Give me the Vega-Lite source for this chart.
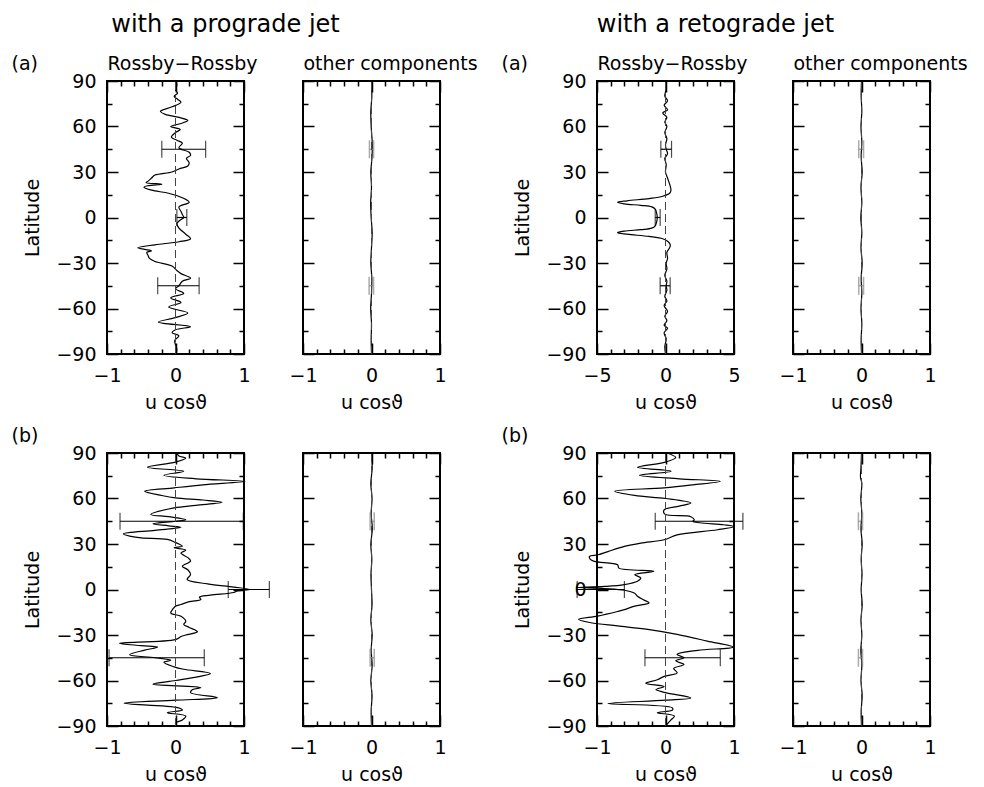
{
"$schema":"https://vega.github.io/schema/vega-lite/v6.json",
"padding":{"left":10,"top":11,"right":5,"bottom":5},
"background":"white",
"datasets":{
"c1":[{"lat":90,"u":0.01},{"lat":87,"u":0.02},{"lat":84,"u":0.0},{"lat":82,"u":0.03},{"lat":80,"u":-0.02},{"lat":78,"u":0.03},{"lat":76,"u":0.08},{"lat":73,"u":-0.05},{"lat":70,"u":-0.22},{"lat":68,"u":-0.15},{"lat":66,"u":0.05},{"lat":64,"u":0.18},{"lat":62,"u":0.08},{"lat":60,"u":-0.07},{"lat":58,"u":0.07},{"lat":56,"u":0.0},{"lat":53,"u":-0.06},{"lat":51,"u":0.02},{"lat":49,"u":0.1},{"lat":46,"u":0.05},{"lat":43,"u":0.2},{"lat":41,"u":0.22},{"lat":39,"u":0.16},{"lat":36,"u":0.2},{"lat":34,"u":0.18},{"lat":32,"u":0.05},{"lat":30,"u":-0.05},{"lat":28,"u":-0.3},{"lat":26,"u":-0.35},{"lat":24,"u":-0.4},{"lat":23,"u":-0.43},{"lat":22,"u":-0.2},{"lat":21,"u":-0.4},{"lat":20,"u":-0.46},{"lat":18,"u":-0.35},{"lat":16,"u":-0.1},{"lat":13,"u":0.1},{"lat":10,"u":0.2},{"lat":7,"u":0.05},{"lat":4,"u":0.08},{"lat":2,"u":0.1},{"lat":0,"u":0.12},{"lat":-2,"u":0.06},{"lat":-4,"u":0.02},{"lat":-7,"u":0.05},{"lat":-11,"u":0.15},{"lat":-14,"u":0.22},{"lat":-16,"u":0.05},{"lat":-18,"u":-0.3},{"lat":-20,"u":-0.55},{"lat":-21,"u":-0.45},{"lat":-22,"u":-0.35},{"lat":-23,"u":-0.42},{"lat":-25,"u":-0.4},{"lat":-27,"u":-0.38},{"lat":-29,"u":-0.3},{"lat":-32,"u":-0.05},{"lat":-35,"u":0.02},{"lat":-37,"u":0.08},{"lat":-40,"u":0.22},{"lat":-42,"u":0.1},{"lat":-45,"u":0.05},{"lat":-47,"u":0.0},{"lat":-50,"u":0.12},{"lat":-53,"u":-0.07},{"lat":-56,"u":0.08},{"lat":-59,"u":-0.1},{"lat":-63,"u":0.18},{"lat":-66,"u":0.0},{"lat":-69,"u":-0.25},{"lat":-72,"u":0.22},{"lat":-74,"u":0.0},{"lat":-76,"u":-0.05},{"lat":-78,"u":0.05},{"lat":-81,"u":-0.01},{"lat":-84,"u":0.0},{"lat":-87,"u":0.02},{"lat":-90,"u":0.01}],
"c2":[{"lat":90,"u":0.0},{"lat":80,"u":0.005},{"lat":70,"u":-0.01},{"lat":60,"u":-0.005},{"lat":50,"u":0.01},{"lat":40,"u":0.008},{"lat":30,"u":-0.01},{"lat":20,"u":0.0},{"lat":10,"u":-0.012},{"lat":0,"u":-0.005},{"lat":-10,"u":0.01},{"lat":-20,"u":0.0},{"lat":-30,"u":-0.01},{"lat":-40,"u":0.005},{"lat":-50,"u":0.0},{"lat":-60,"u":-0.012},{"lat":-70,"u":0.0},{"lat":-80,"u":-0.005},{"lat":-90,"u":0.0}],
"c3":[{"lat":90,"u":0.0},{"lat":85,"u":0.05},{"lat":80,"u":-0.05},{"lat":77,"u":0.15},{"lat":74,"u":-0.1},{"lat":71,"u":0.15},{"lat":69,"u":-0.2},{"lat":66,"u":0.1},{"lat":63,"u":-0.05},{"lat":60,"u":0.1},{"lat":56,"u":-0.05},{"lat":52,"u":0.1},{"lat":48,"u":0.0},{"lat":45,"u":0.05},{"lat":42,"u":0.15},{"lat":39,"u":-0.05},{"lat":35,"u":0.05},{"lat":30,"u":0.0},{"lat":26,"u":0.15},{"lat":22,"u":0.3},{"lat":18,"u":0.4},{"lat":16,"u":0.3},{"lat":14,"u":-0.2},{"lat":12.5,"u":-1.2},{"lat":11,"u":-2.8},{"lat":10,"u":-3.5},{"lat":9,"u":-3.0},{"lat":8,"u":-1.8},{"lat":7,"u":-1.0},{"lat":5.5,"u":-0.75},{"lat":3,"u":-0.65},{"lat":0,"u":-0.6},{"lat":-3,"u":-0.65},{"lat":-5.5,"u":-0.75},{"lat":-7,"u":-1.0},{"lat":-8,"u":-1.8},{"lat":-9,"u":-3.0},{"lat":-10,"u":-3.5},{"lat":-11,"u":-2.8},{"lat":-12.5,"u":-1.2},{"lat":-14,"u":-0.2},{"lat":-16,"u":0.2},{"lat":-18,"u":0.35},{"lat":-20,"u":0.3},{"lat":-23,"u":0.1},{"lat":-27,"u":0.15},{"lat":-30,"u":0.05},{"lat":-34,"u":0.1},{"lat":-38,"u":-0.05},{"lat":-42,"u":0.1},{"lat":-45,"u":0.05},{"lat":-48,"u":0.1},{"lat":-52,"u":-0.05},{"lat":-55,"u":0.1},{"lat":-58,"u":-0.1},{"lat":-62,"u":0.15},{"lat":-65,"u":-0.05},{"lat":-68,"u":0.1},{"lat":-71,"u":-0.1},{"lat":-73,"u":0.15},{"lat":-76,"u":-0.1},{"lat":-80,"u":0.05},{"lat":-85,"u":-0.05},{"lat":-90,"u":0.0}],
"c4":[{"lat":90,"u":0.0},{"lat":80,"u":-0.005},{"lat":70,"u":0.005},{"lat":60,"u":-0.008},{"lat":50,"u":0.005},{"lat":40,"u":-0.005},{"lat":30,"u":0.01},{"lat":20,"u":-0.008},{"lat":10,"u":0.005},{"lat":0,"u":-0.01},{"lat":-10,"u":0.005},{"lat":-20,"u":-0.008},{"lat":-30,"u":0.01},{"lat":-40,"u":-0.005},{"lat":-50,"u":0.005},{"lat":-60,"u":-0.008},{"lat":-70,"u":0.005},{"lat":-80,"u":-0.005},{"lat":-90,"u":0.0}],
"c5":[{"lat":90,"u":0.02},{"lat":88,"u":0.05},{"lat":86.7,"u":0.15},{"lat":84,"u":0.0},{"lat":80.6,"u":-0.41},{"lat":78,"u":0.12},{"lat":75.3,"u":-0.17},{"lat":73,"u":0.3},{"lat":71.3,"u":1.02},{"lat":69,"u":0.4},{"lat":67,"u":-0.02},{"lat":64.8,"u":-0.45},{"lat":62,"u":-0.2},{"lat":60.4,"u":0.0},{"lat":59,"u":0.4},{"lat":57.5,"u":0.68},{"lat":55.5,"u":0.3},{"lat":53.8,"u":-0.02},{"lat":49.5,"u":-0.36},{"lat":48,"u":-0.1},{"lat":46,"u":0.15},{"lat":45,"u":0.0},{"lat":43.3,"u":-0.33},{"lat":42,"u":-0.1},{"lat":41,"u":0.08},{"lat":39,"u":-0.3},{"lat":36.7,"u":-0.76},{"lat":35,"u":-0.65},{"lat":34,"u":-0.5},{"lat":33,"u":-0.12},{"lat":31,"u":0.0},{"lat":30,"u":0.05},{"lat":28.6,"u":0.1},{"lat":27.5,"u":-0.02},{"lat":26,"u":0.15},{"lat":24,"u":0.08},{"lat":21,"u":0.18},{"lat":18.7,"u":0.22},{"lat":15.4,"u":0.1},{"lat":13,"u":0.18},{"lat":9.9,"u":0.22},{"lat":6.6,"u":0.17},{"lat":3.7,"u":0.47},{"lat":1.6,"u":0.85},{"lat":0,"u":1.08},{"lat":-1,"u":0.9},{"lat":-2,"u":0.85},{"lat":-3.7,"u":0.51},{"lat":-5,"u":0.35},{"lat":-6.6,"u":0.37},{"lat":-8,"u":0.2},{"lat":-9.9,"u":0.08},{"lat":-11,"u":0.0},{"lat":-13,"u":-0.04},{"lat":-15.5,"u":-0.07},{"lat":-17.7,"u":0.08},{"lat":-21,"u":0.15},{"lat":-23,"u":0.12},{"lat":-25,"u":0.2},{"lat":-27.8,"u":0.32},{"lat":-30,"u":0.15},{"lat":-31,"u":0.08},{"lat":-33,"u":0.0},{"lat":-35.4,"u":-0.82},{"lat":-37,"u":-0.5},{"lat":-38,"u":-0.26},{"lat":-40,"u":-0.45},{"lat":-43,"u":-0.67},{"lat":-45,"u":-0.3},{"lat":-46.7,"u":-0.07},{"lat":-48,"u":-0.17},{"lat":-51,"u":-0.02},{"lat":-52.6,"u":0.12},{"lat":-55.4,"u":0.51},{"lat":-57.6,"u":0.32},{"lat":-60,"u":0.0},{"lat":-62.4,"u":-0.33},{"lat":-64.7,"u":0.37},{"lat":-66,"u":0.25},{"lat":-68,"u":0.22},{"lat":-71.3,"u":0.61},{"lat":-73,"u":0.0},{"lat":-75,"u":-0.75},{"lat":-77.9,"u":0.03},{"lat":-79.5,"u":0.1},{"lat":-81.2,"u":-0.12},{"lat":-83.4,"u":0.15},{"lat":-86,"u":0.1},{"lat":-88,"u":0.0},{"lat":-90,"u":0.02}],
"c6":[{"lat":90,"u":0.0},{"lat":80,"u":0.01},{"lat":70,"u":-0.01},{"lat":60,"u":0.008},{"lat":50,"u":-0.005},{"lat":40,"u":0.012},{"lat":30,"u":-0.01},{"lat":20,"u":0.005},{"lat":10,"u":-0.008},{"lat":0,"u":0.0},{"lat":-10,"u":0.008},{"lat":-20,"u":-0.01},{"lat":-30,"u":0.01},{"lat":-40,"u":-0.005},{"lat":-50,"u":0.01},{"lat":-60,"u":-0.01},{"lat":-70,"u":0.008},{"lat":-80,"u":-0.005},{"lat":-90,"u":0.0}],
"c7":[{"lat":90,"u":0.02},{"lat":87,"u":0.15},{"lat":84,"u":0.0},{"lat":80.6,"u":-0.41},{"lat":78,"u":0.08},{"lat":75.3,"u":-0.38},{"lat":73,"u":0.2},{"lat":71.3,"u":0.8},{"lat":69,"u":0.4},{"lat":67,"u":-0.02},{"lat":64.8,"u":-0.74},{"lat":62,"u":-0.45},{"lat":60,"u":0.0},{"lat":57,"u":0.37},{"lat":55,"u":0.2},{"lat":52.5,"u":-0.02},{"lat":49.7,"u":-0.01},{"lat":48,"u":0.37},{"lat":46,"u":0.42},{"lat":45,"u":0.4},{"lat":44,"u":0.5},{"lat":42.7,"u":0.85},{"lat":41.6,"u":1.0},{"lat":39.4,"u":0.76},{"lat":36,"u":0.17},{"lat":32.8,"u":-0.02},{"lat":30.6,"u":-0.36},{"lat":28.4,"u":-0.6},{"lat":25,"u":-0.84},{"lat":22.9,"u":-0.98},{"lat":21.8,"u":-1.11},{"lat":20,"u":-1.1},{"lat":18.5,"u":-1.04},{"lat":16.3,"u":-0.7},{"lat":14.1,"u":-0.68},{"lat":12,"u":-0.17},{"lat":9.8,"u":-0.45},{"lat":7.6,"u":-0.36},{"lat":5.4,"u":-0.41},{"lat":3.2,"u":-0.6},{"lat":2,"u":-0.89},{"lat":1.4,"u":-1.3},{"lat":0.6,"u":-0.89},{"lat":-0.5,"u":-0.6},{"lat":-2.5,"u":-0.45},{"lat":-4.4,"u":-0.41},{"lat":-7,"u":-0.31},{"lat":-8.8,"u":-0.24},{"lat":-11,"u":-0.45},{"lat":-13.3,"u":-0.6},{"lat":-14.5,"u":-0.7},{"lat":-17.5,"u":-0.99},{"lat":-19.7,"u":-1.27},{"lat":-21.9,"u":-1.09},{"lat":-24,"u":-0.7},{"lat":-26.3,"u":-0.26},{"lat":-29.6,"u":0.17},{"lat":-34,"u":0.61},{"lat":-38,"u":0.99},{"lat":-40.1,"u":0.47},{"lat":-42.8,"u":0.17},{"lat":-45,"u":0.27},{"lat":-47,"u":0.15},{"lat":-49.5,"u":0.27},{"lat":-52,"u":0.12},{"lat":-55,"u":0.17},{"lat":-57.3,"u":-0.02},{"lat":-59.5,"u":-0.12},{"lat":-61.8,"u":-0.29},{"lat":-64,"u":-0.02},{"lat":-66,"u":-0.14},{"lat":-68,"u":0.0},{"lat":-71.5,"u":0.37},{"lat":-73,"u":0.0},{"lat":-75.2,"u":-0.84},{"lat":-78,"u":0.1},{"lat":-79.5,"u":0.1},{"lat":-81.2,"u":-0.12},{"lat":-83.4,"u":0.13},{"lat":-86,"u":0.08},{"lat":-90,"u":0.0}],
"c8":[{"lat":90,"u":0.0},{"lat":80,"u":-0.008},{"lat":74,"u":-0.015},{"lat":70,"u":0.005},{"lat":60,"u":-0.01},{"lat":50,"u":0.005},{"lat":40,"u":-0.008},{"lat":30,"u":0.01},{"lat":20,"u":-0.005},{"lat":10,"u":0.008},{"lat":0,"u":-0.005},{"lat":-10,"u":0.01},{"lat":-20,"u":-0.008},{"lat":-30,"u":0.005},{"lat":-40,"u":-0.01},{"lat":-50,"u":0.005},{"lat":-60,"u":-0.008},{"lat":-70,"u":0.01},{"lat":-80,"u":-0.005},{"lat":-90,"u":0.0}],
"e1":[{"lat":45,"lo":-0.2,"hi":0.44},{"lat":0,"lo":0.02,"hi":0.165},{"lat":-45,"lo":-0.26,"hi":0.345}],
"e2":[{"lat":45,"lo":-0.03,"hi":0.03},{"lat":-45,"lo":-0.035,"hi":0.03}],
"e3":[{"lat":45,"lo":-0.34,"hi":0.44},{"lat":0,"lo":-0.75,"hi":-0.39},{"lat":-45,"lo":-0.39,"hi":0.34}],
"e4":[{"lat":45,"lo":-0.04,"hi":0.03},{"lat":-45,"lo":-0.04,"hi":0.03}],
"e5":[{"lat":45,"lo":-0.81,"hi":0.99},{"lat":0,"lo":0.77,"hi":1.37},{"lat":-45,"lo":-0.97,"hi":0.42}],
"e6":[{"lat":45,"lo":-0.02,"hi":0.04},{"lat":-45,"lo":-0.02,"hi":0.04}],
"e7":[{"lat":45,"lo":-0.15,"hi":1.13},{"lat":0,"lo":-1.29,"hi":-0.6},{"lat":-45,"lo":-0.3,"hi":0.8}],
"e8":[{"lat":45,"lo":-0.045,"hi":0.015},{"lat":-45,"lo":-0.045,"hi":0.015}]
},
"bounds":"flush",
"columns":5,
"spacing":{"row":99,"column":59},
"concat":[
  {"width":137,"height":273,"resolve":{"axis":{"x":"independent","y":"independent"}},"layer":[
   {"data":{"name":"c1"},"mark":{"type":"line","color":"#000","strokeWidth":1.2,"interpolate":"catmull-rom"},"encoding":{
     "x":{"field":"u","type":"quantitative","scale":{"domain":[-1,1],"nice":false,"zero":false},"axis":{"orient":"bottom","values":[-1,0,1],"labelExpr":"replace(datum.label, '.0', '')","labelOverlap":false,"ticks":false,"labelPadding":12,"title":"u  cosϑ","titleX":68.5,"titleY":54,"titleAlign":"center","titleBaseline":"alphabetic"}},
     "y":{"field":"lat","type":"quantitative","scale":{"domain":[-90,90],"nice":false,"zero":false},"axis":{"orient":"left","values":[-90,-60,-30,0,30,60,90],"labelOverlap":false,"ticks":false,"labelPadding":11,"title":"Latitude","titleX":-75,"titleY":136.5,"titleAngle":-90,"titleAlign":"center","titleBaseline":"middle"}},
     "order":{"field":"lat","type":"quantitative"}}},
   {"data":{"name":"e1"},"mark":{"type":"rule","color":"#000","strokeWidth":1.2},"encoding":{
     "x":{"field":"lo","type":"quantitative","scale":{"domain":[-1,1],"nice":false,"zero":false},"axis":{"orient":"top","values":[-0.8,-0.6,-0.4,-0.2,0.2,0.4,0.6,0.8],"tickSize":-5,"labels":false,"title":"(a)","titleX":-96,"titleY":-18,"titleAlign":"left","titleBaseline":"middle"}},
     "x2":{"field":"hi"},
     "y":{"field":"lat","type":"quantitative","scale":{"domain":[-90,90],"nice":false,"zero":false},"axis":{"orient":"right","values":[-75,-45,-15,15,45,75],"tickSize":-5,"labels":false,"title":null}}}},
   {"data":{"name":"e1"},"mark":{"type":"tick","orient":"vertical","size":17,"thickness":1.2,"color":"#000"},"encoding":{
     "x":{"field":"lo","type":"quantitative","scale":{"domain":[-1,1],"nice":false,"zero":false},"axis":{"orient":"bottom","values":[-0.8,-0.6,-0.4,-0.2,0.2,0.4,0.6,0.8],"tickSize":-5,"labels":false,"title":"with a prograde jet","titleX":118,"titleY":-323,"titleAlign":"center","titleBaseline":"alphabetic","titleFontSize":24}},
     "y":{"field":"lat","type":"quantitative","scale":{"domain":[-90,90],"nice":false,"zero":false},"axis":{"orient":"left","values":[-75,-45,-15,15,45,75],"tickSize":-5,"labels":false,"title":null}}}},
   {"data":{"name":"e1"},"mark":{"type":"tick","orient":"vertical","size":17,"thickness":1.2,"color":"#000"},"encoding":{
     "x":{"field":"hi","type":"quantitative","scale":{"domain":[-1,1],"nice":false,"zero":false},"axis":{"orient":"top","values":[-1,0,1],"tickSize":-11,"labels":false,"title":"Rossby−Rossby","titleX":0,"titleY":-18,"titleAlign":"left","titleBaseline":"middle"}},
     "y":{"field":"lat","type":"quantitative","scale":{"domain":[-90,90],"nice":false,"zero":false},"axis":{"orient":"right","values":[-90,-60,-30,0,30,60,90],"tickSize":-11,"labels":false,"title":null}}}},
   {"data":{"values":[{}]},"mark":{"type":"rule","color":"#444","strokeWidth":1,"strokeDash":[8,4]},"encoding":{
     "x":{"datum":0,"type":"quantitative","scale":{"domain":[-1,1],"nice":false,"zero":false},"axis":{"orient":"bottom","values":[-1,0,1],"tickSize":-11,"labels":false,"title":null}},
     "y":{"datum":-90,"type":"quantitative","scale":{"domain":[-90,90],"nice":false,"zero":false},"axis":{"orient":"left","values":[-90,-60,-30,0,30,60,90],"tickSize":-11,"labels":false,"title":null}},
     "y2":{"datum":90}}}
  ]},
  {"width":137,"height":273,"resolve":{"axis":{"x":"independent","y":"independent"}},"layer":[
   {"data":{"name":"c2"},"mark":{"type":"line","color":"#000","strokeWidth":1.2,"interpolate":"catmull-rom"},"encoding":{
     "x":{"field":"u","type":"quantitative","scale":{"domain":[-1,1],"nice":false,"zero":false},"axis":{"orient":"bottom","values":[-1,0,1],"labelExpr":"replace(datum.label, '.0', '')","labelOverlap":false,"ticks":false,"labelPadding":12,"title":"u  cosϑ","titleX":68.5,"titleY":54,"titleAlign":"center","titleBaseline":"alphabetic"}},
     "y":{"field":"lat","type":"quantitative","scale":{"domain":[-90,90],"nice":false,"zero":false},"axis":null},
     "order":{"field":"lat","type":"quantitative"}}},
   {"data":{"name":"e2"},"mark":{"type":"rule","color":"#888","strokeWidth":1},"encoding":{
     "x":{"field":"lo","type":"quantitative","scale":{"domain":[-1,1],"nice":false,"zero":false},"axis":{"orient":"top","values":[-0.8,-0.6,-0.4,-0.2,0.2,0.4,0.6,0.8],"tickSize":-5,"labels":false,"title":null}},
     "x2":{"field":"hi"},
     "y":{"field":"lat","type":"quantitative","scale":{"domain":[-90,90],"nice":false,"zero":false},"axis":{"orient":"right","values":[-75,-45,-15,15,45,75],"tickSize":-5,"labels":false,"title":null}}}},
   {"data":{"name":"e2"},"mark":{"type":"tick","orient":"vertical","size":18,"thickness":1.5,"color":"#888"},"encoding":{
     "x":{"field":"lo","type":"quantitative","scale":{"domain":[-1,1],"nice":false,"zero":false},"axis":{"orient":"bottom","values":[-0.8,-0.6,-0.4,-0.2,0.2,0.4,0.6,0.8],"tickSize":-5,"labels":false,"title":null}},
     "y":{"field":"lat","type":"quantitative","scale":{"domain":[-90,90],"nice":false,"zero":false},"axis":{"orient":"left","values":[-75,-45,-15,15,45,75],"tickSize":-5,"labels":false,"title":null}}}},
   {"data":{"name":"e2"},"mark":{"type":"tick","orient":"vertical","size":18,"thickness":1.5,"color":"#888"},"encoding":{
     "x":{"field":"hi","type":"quantitative","scale":{"domain":[-1,1],"nice":false,"zero":false},"axis":{"orient":"top","values":[-1,0,1],"tickSize":-11,"labels":false,"title":"other components","titleX":0,"titleY":-18,"titleAlign":"left","titleBaseline":"middle"}},
     "y":{"field":"lat","type":"quantitative","scale":{"domain":[-90,90],"nice":false,"zero":false},"axis":{"orient":"right","values":[-90,-60,-30,0,30,60,90],"tickSize":-11,"labels":false,"title":null}}}},
   {"data":{"values":[{}]},"mark":{"type":"rule","color":"#444","strokeWidth":1,"strokeDash":[8,4]},"encoding":{
     "x":{"datum":0,"type":"quantitative","scale":{"domain":[-1,1],"nice":false,"zero":false},"axis":{"orient":"bottom","values":[-1,0,1],"tickSize":-11,"labels":false,"title":null}},
     "y":{"datum":-90,"type":"quantitative","scale":{"domain":[-90,90],"nice":false,"zero":false},"axis":{"orient":"left","values":[-90,-60,-30,0,30,60,90],"tickSize":-11,"labels":false,"title":null}},
     "y2":{"datum":90}}}
  ]},
  {"width":39,"height":273,"view":{"stroke":null},"data":{"values":[{}]},"mark":{"type":"text","text":""},"encoding":{}},
  {"width":137,"height":273,"resolve":{"axis":{"x":"independent","y":"independent"}},"layer":[
   {"data":{"name":"c3"},"mark":{"type":"line","color":"#000","strokeWidth":1.2,"interpolate":"catmull-rom"},"encoding":{
     "x":{"field":"u","type":"quantitative","scale":{"domain":[-5,5],"nice":false,"zero":false},"axis":{"orient":"bottom","values":[-5,0,5],"labelExpr":"replace(datum.label, '.0', '')","labelOverlap":false,"ticks":false,"labelPadding":12,"title":"u  cosϑ","titleX":68.5,"titleY":54,"titleAlign":"center","titleBaseline":"alphabetic"}},
     "y":{"field":"lat","type":"quantitative","scale":{"domain":[-90,90],"nice":false,"zero":false},"axis":{"orient":"left","values":[-90,-60,-30,0,30,60,90],"labelOverlap":false,"ticks":false,"labelPadding":11,"title":"Latitude","titleX":-75,"titleY":136.5,"titleAngle":-90,"titleAlign":"center","titleBaseline":"middle"}},
     "order":{"field":"lat","type":"quantitative"}}},
   {"data":{"name":"e3"},"mark":{"type":"rule","color":"#000","strokeWidth":1.2},"encoding":{
     "x":{"field":"lo","type":"quantitative","scale":{"domain":[-5,5],"nice":false,"zero":false},"axis":{"orient":"top","values":[-4,-3,-2,-1,1,2,3,4],"tickSize":-5,"labels":false,"title":"(a)","titleX":-96,"titleY":-18,"titleAlign":"left","titleBaseline":"middle"}},
     "x2":{"field":"hi"},
     "y":{"field":"lat","type":"quantitative","scale":{"domain":[-90,90],"nice":false,"zero":false},"axis":{"orient":"right","values":[-75,-45,-15,15,45,75],"tickSize":-5,"labels":false,"title":null}}}},
   {"data":{"name":"e3"},"mark":{"type":"tick","orient":"vertical","size":17,"thickness":1.2,"color":"#000"},"encoding":{
     "x":{"field":"lo","type":"quantitative","scale":{"domain":[-5,5],"nice":false,"zero":false},"axis":{"orient":"bottom","values":[-4,-3,-2,-1,1,2,3,4],"tickSize":-5,"labels":false,"title":"with a retograde jet","titleX":118,"titleY":-323,"titleAlign":"center","titleBaseline":"alphabetic","titleFontSize":24}},
     "y":{"field":"lat","type":"quantitative","scale":{"domain":[-90,90],"nice":false,"zero":false},"axis":{"orient":"left","values":[-75,-45,-15,15,45,75],"tickSize":-5,"labels":false,"title":null}}}},
   {"data":{"name":"e3"},"mark":{"type":"tick","orient":"vertical","size":17,"thickness":1.2,"color":"#000"},"encoding":{
     "x":{"field":"hi","type":"quantitative","scale":{"domain":[-5,5],"nice":false,"zero":false},"axis":{"orient":"top","values":[-5,0,5],"tickSize":-11,"labels":false,"title":"Rossby−Rossby","titleX":0,"titleY":-18,"titleAlign":"left","titleBaseline":"middle"}},
     "y":{"field":"lat","type":"quantitative","scale":{"domain":[-90,90],"nice":false,"zero":false},"axis":{"orient":"right","values":[-90,-60,-30,0,30,60,90],"tickSize":-11,"labels":false,"title":null}}}},
   {"data":{"values":[{}]},"mark":{"type":"rule","color":"#444","strokeWidth":1,"strokeDash":[8,4]},"encoding":{
     "x":{"datum":0,"type":"quantitative","scale":{"domain":[-5,5],"nice":false,"zero":false},"axis":{"orient":"bottom","values":[-5,0,5],"tickSize":-11,"labels":false,"title":null}},
     "y":{"datum":-90,"type":"quantitative","scale":{"domain":[-90,90],"nice":false,"zero":false},"axis":{"orient":"left","values":[-90,-60,-30,0,30,60,90],"tickSize":-11,"labels":false,"title":null}},
     "y2":{"datum":90}}}
  ]},
  {"width":137,"height":273,"resolve":{"axis":{"x":"independent","y":"independent"}},"layer":[
   {"data":{"name":"c4"},"mark":{"type":"line","color":"#000","strokeWidth":1.2,"interpolate":"catmull-rom"},"encoding":{
     "x":{"field":"u","type":"quantitative","scale":{"domain":[-1,1],"nice":false,"zero":false},"axis":{"orient":"bottom","values":[-1,0,1],"labelExpr":"replace(datum.label, '.0', '')","labelOverlap":false,"ticks":false,"labelPadding":12,"title":"u  cosϑ","titleX":68.5,"titleY":54,"titleAlign":"center","titleBaseline":"alphabetic"}},
     "y":{"field":"lat","type":"quantitative","scale":{"domain":[-90,90],"nice":false,"zero":false},"axis":null},
     "order":{"field":"lat","type":"quantitative"}}},
   {"data":{"name":"e4"},"mark":{"type":"rule","color":"#888","strokeWidth":1},"encoding":{
     "x":{"field":"lo","type":"quantitative","scale":{"domain":[-1,1],"nice":false,"zero":false},"axis":{"orient":"top","values":[-0.8,-0.6,-0.4,-0.2,0.2,0.4,0.6,0.8],"tickSize":-5,"labels":false,"title":null}},
     "x2":{"field":"hi"},
     "y":{"field":"lat","type":"quantitative","scale":{"domain":[-90,90],"nice":false,"zero":false},"axis":{"orient":"right","values":[-75,-45,-15,15,45,75],"tickSize":-5,"labels":false,"title":null}}}},
   {"data":{"name":"e4"},"mark":{"type":"tick","orient":"vertical","size":18,"thickness":1.5,"color":"#888"},"encoding":{
     "x":{"field":"lo","type":"quantitative","scale":{"domain":[-1,1],"nice":false,"zero":false},"axis":{"orient":"bottom","values":[-0.8,-0.6,-0.4,-0.2,0.2,0.4,0.6,0.8],"tickSize":-5,"labels":false,"title":null}},
     "y":{"field":"lat","type":"quantitative","scale":{"domain":[-90,90],"nice":false,"zero":false},"axis":{"orient":"left","values":[-75,-45,-15,15,45,75],"tickSize":-5,"labels":false,"title":null}}}},
   {"data":{"name":"e4"},"mark":{"type":"tick","orient":"vertical","size":18,"thickness":1.5,"color":"#888"},"encoding":{
     "x":{"field":"hi","type":"quantitative","scale":{"domain":[-1,1],"nice":false,"zero":false},"axis":{"orient":"top","values":[-1,0,1],"tickSize":-11,"labels":false,"title":"other components","titleX":0,"titleY":-18,"titleAlign":"left","titleBaseline":"middle"}},
     "y":{"field":"lat","type":"quantitative","scale":{"domain":[-90,90],"nice":false,"zero":false},"axis":{"orient":"right","values":[-90,-60,-30,0,30,60,90],"tickSize":-11,"labels":false,"title":null}}}},
   {"data":{"values":[{}]},"mark":{"type":"rule","color":"#444","strokeWidth":1,"strokeDash":[8,4]},"encoding":{
     "x":{"datum":0,"type":"quantitative","scale":{"domain":[-1,1],"nice":false,"zero":false},"axis":{"orient":"bottom","values":[-1,0,1],"tickSize":-11,"labels":false,"title":null}},
     "y":{"datum":-90,"type":"quantitative","scale":{"domain":[-90,90],"nice":false,"zero":false},"axis":{"orient":"left","values":[-90,-60,-30,0,30,60,90],"tickSize":-11,"labels":false,"title":null}},
     "y2":{"datum":90}}}
  ]},
  {"width":137,"height":273,"resolve":{"axis":{"x":"independent","y":"independent"}},"layer":[
   {"data":{"name":"c5"},"mark":{"type":"line","color":"#000","strokeWidth":1.2,"interpolate":"catmull-rom"},"encoding":{
     "x":{"field":"u","type":"quantitative","scale":{"domain":[-1,1],"nice":false,"zero":false},"axis":{"orient":"bottom","values":[-1,0,1],"labelExpr":"replace(datum.label, '.0', '')","labelOverlap":false,"ticks":false,"labelPadding":12,"title":"u  cosϑ","titleX":68.5,"titleY":54,"titleAlign":"center","titleBaseline":"alphabetic"}},
     "y":{"field":"lat","type":"quantitative","scale":{"domain":[-90,90],"nice":false,"zero":false},"axis":{"orient":"left","values":[-90,-60,-30,0,30,60,90],"labelOverlap":false,"ticks":false,"labelPadding":11,"title":"Latitude","titleX":-75,"titleY":136.5,"titleAngle":-90,"titleAlign":"center","titleBaseline":"middle"}},
     "order":{"field":"lat","type":"quantitative"}}},
   {"data":{"name":"e5"},"mark":{"type":"rule","color":"#000","strokeWidth":1.2},"encoding":{
     "x":{"field":"lo","type":"quantitative","scale":{"domain":[-1,1],"nice":false,"zero":false},"axis":{"orient":"top","values":[-0.8,-0.6,-0.4,-0.2,0.2,0.4,0.6,0.8],"tickSize":-5,"labels":false,"title":"(b)","titleX":-96,"titleY":-18,"titleAlign":"left","titleBaseline":"middle"}},
     "x2":{"field":"hi"},
     "y":{"field":"lat","type":"quantitative","scale":{"domain":[-90,90],"nice":false,"zero":false},"axis":{"orient":"right","values":[-75,-45,-15,15,45,75],"tickSize":-5,"labels":false,"title":null}}}},
   {"data":{"name":"e5"},"mark":{"type":"tick","orient":"vertical","size":17,"thickness":1.2,"color":"#000"},"encoding":{
     "x":{"field":"lo","type":"quantitative","scale":{"domain":[-1,1],"nice":false,"zero":false},"axis":{"orient":"bottom","values":[-0.8,-0.6,-0.4,-0.2,0.2,0.4,0.6,0.8],"tickSize":-5,"labels":false,"title":null}},
     "y":{"field":"lat","type":"quantitative","scale":{"domain":[-90,90],"nice":false,"zero":false},"axis":{"orient":"left","values":[-75,-45,-15,15,45,75],"tickSize":-5,"labels":false,"title":null}}}},
   {"data":{"name":"e5"},"mark":{"type":"tick","orient":"vertical","size":17,"thickness":1.2,"color":"#000"},"encoding":{
     "x":{"field":"hi","type":"quantitative","scale":{"domain":[-1,1],"nice":false,"zero":false},"axis":{"orient":"top","values":[-1,0,1],"tickSize":-11,"labels":false,"title":null}},
     "y":{"field":"lat","type":"quantitative","scale":{"domain":[-90,90],"nice":false,"zero":false},"axis":{"orient":"right","values":[-90,-60,-30,0,30,60,90],"tickSize":-11,"labels":false,"title":null}}}},
   {"data":{"values":[{}]},"mark":{"type":"rule","color":"#444","strokeWidth":1,"strokeDash":[8,4]},"encoding":{
     "x":{"datum":0,"type":"quantitative","scale":{"domain":[-1,1],"nice":false,"zero":false},"axis":{"orient":"bottom","values":[-1,0,1],"tickSize":-11,"labels":false,"title":null}},
     "y":{"datum":-90,"type":"quantitative","scale":{"domain":[-90,90],"nice":false,"zero":false},"axis":{"orient":"left","values":[-90,-60,-30,0,30,60,90],"tickSize":-11,"labels":false,"title":null}},
     "y2":{"datum":90}}}
  ]},
  {"width":137,"height":273,"resolve":{"axis":{"x":"independent","y":"independent"}},"layer":[
   {"data":{"name":"c6"},"mark":{"type":"line","color":"#000","strokeWidth":1.2,"interpolate":"catmull-rom"},"encoding":{
     "x":{"field":"u","type":"quantitative","scale":{"domain":[-1,1],"nice":false,"zero":false},"axis":{"orient":"bottom","values":[-1,0,1],"labelExpr":"replace(datum.label, '.0', '')","labelOverlap":false,"ticks":false,"labelPadding":12,"title":"u  cosϑ","titleX":68.5,"titleY":54,"titleAlign":"center","titleBaseline":"alphabetic"}},
     "y":{"field":"lat","type":"quantitative","scale":{"domain":[-90,90],"nice":false,"zero":false},"axis":null},
     "order":{"field":"lat","type":"quantitative"}}},
   {"data":{"name":"e6"},"mark":{"type":"rule","color":"#888","strokeWidth":1},"encoding":{
     "x":{"field":"lo","type":"quantitative","scale":{"domain":[-1,1],"nice":false,"zero":false},"axis":{"orient":"top","values":[-0.8,-0.6,-0.4,-0.2,0.2,0.4,0.6,0.8],"tickSize":-5,"labels":false,"title":null}},
     "x2":{"field":"hi"},
     "y":{"field":"lat","type":"quantitative","scale":{"domain":[-90,90],"nice":false,"zero":false},"axis":{"orient":"right","values":[-75,-45,-15,15,45,75],"tickSize":-5,"labels":false,"title":null}}}},
   {"data":{"name":"e6"},"mark":{"type":"tick","orient":"vertical","size":18,"thickness":1.5,"color":"#888"},"encoding":{
     "x":{"field":"lo","type":"quantitative","scale":{"domain":[-1,1],"nice":false,"zero":false},"axis":{"orient":"bottom","values":[-0.8,-0.6,-0.4,-0.2,0.2,0.4,0.6,0.8],"tickSize":-5,"labels":false,"title":null}},
     "y":{"field":"lat","type":"quantitative","scale":{"domain":[-90,90],"nice":false,"zero":false},"axis":{"orient":"left","values":[-75,-45,-15,15,45,75],"tickSize":-5,"labels":false,"title":null}}}},
   {"data":{"name":"e6"},"mark":{"type":"tick","orient":"vertical","size":18,"thickness":1.5,"color":"#888"},"encoding":{
     "x":{"field":"hi","type":"quantitative","scale":{"domain":[-1,1],"nice":false,"zero":false},"axis":{"orient":"top","values":[-1,0,1],"tickSize":-11,"labels":false,"title":null}},
     "y":{"field":"lat","type":"quantitative","scale":{"domain":[-90,90],"nice":false,"zero":false},"axis":{"orient":"right","values":[-90,-60,-30,0,30,60,90],"tickSize":-11,"labels":false,"title":null}}}},
   {"data":{"values":[{}]},"mark":{"type":"rule","color":"#444","strokeWidth":1,"strokeDash":[8,4]},"encoding":{
     "x":{"datum":0,"type":"quantitative","scale":{"domain":[-1,1],"nice":false,"zero":false},"axis":{"orient":"bottom","values":[-1,0,1],"tickSize":-11,"labels":false,"title":null}},
     "y":{"datum":-90,"type":"quantitative","scale":{"domain":[-90,90],"nice":false,"zero":false},"axis":{"orient":"left","values":[-90,-60,-30,0,30,60,90],"tickSize":-11,"labels":false,"title":null}},
     "y2":{"datum":90}}}
  ]},
  {"width":39,"height":273,"view":{"stroke":null},"data":{"values":[{}]},"mark":{"type":"text","text":""},"encoding":{}},
  {"width":137,"height":273,"resolve":{"axis":{"x":"independent","y":"independent"}},"layer":[
   {"data":{"name":"c7"},"mark":{"type":"line","color":"#000","strokeWidth":1.2,"interpolate":"catmull-rom"},"encoding":{
     "x":{"field":"u","type":"quantitative","scale":{"domain":[-1,1],"nice":false,"zero":false},"axis":{"orient":"bottom","values":[-1,0,1],"labelExpr":"replace(datum.label, '.0', '')","labelOverlap":false,"ticks":false,"labelPadding":12,"title":"u  cosϑ","titleX":68.5,"titleY":54,"titleAlign":"center","titleBaseline":"alphabetic"}},
     "y":{"field":"lat","type":"quantitative","scale":{"domain":[-90,90],"nice":false,"zero":false},"axis":{"orient":"left","values":[-90,-60,-30,0,30,60,90],"labelOverlap":false,"ticks":false,"labelPadding":11,"title":"Latitude","titleX":-75,"titleY":136.5,"titleAngle":-90,"titleAlign":"center","titleBaseline":"middle"}},
     "order":{"field":"lat","type":"quantitative"}}},
   {"data":{"name":"e7"},"mark":{"type":"rule","color":"#000","strokeWidth":1.2},"encoding":{
     "x":{"field":"lo","type":"quantitative","scale":{"domain":[-1,1],"nice":false,"zero":false},"axis":{"orient":"top","values":[-0.8,-0.6,-0.4,-0.2,0.2,0.4,0.6,0.8],"tickSize":-5,"labels":false,"title":"(b)","titleX":-96,"titleY":-18,"titleAlign":"left","titleBaseline":"middle"}},
     "x2":{"field":"hi"},
     "y":{"field":"lat","type":"quantitative","scale":{"domain":[-90,90],"nice":false,"zero":false},"axis":{"orient":"right","values":[-75,-45,-15,15,45,75],"tickSize":-5,"labels":false,"title":null}}}},
   {"data":{"name":"e7"},"mark":{"type":"tick","orient":"vertical","size":17,"thickness":1.2,"color":"#000"},"encoding":{
     "x":{"field":"lo","type":"quantitative","scale":{"domain":[-1,1],"nice":false,"zero":false},"axis":{"orient":"bottom","values":[-0.8,-0.6,-0.4,-0.2,0.2,0.4,0.6,0.8],"tickSize":-5,"labels":false,"title":null}},
     "y":{"field":"lat","type":"quantitative","scale":{"domain":[-90,90],"nice":false,"zero":false},"axis":{"orient":"left","values":[-75,-45,-15,15,45,75],"tickSize":-5,"labels":false,"title":null}}}},
   {"data":{"name":"e7"},"mark":{"type":"tick","orient":"vertical","size":17,"thickness":1.2,"color":"#000"},"encoding":{
     "x":{"field":"hi","type":"quantitative","scale":{"domain":[-1,1],"nice":false,"zero":false},"axis":{"orient":"top","values":[-1,0,1],"tickSize":-11,"labels":false,"title":null}},
     "y":{"field":"lat","type":"quantitative","scale":{"domain":[-90,90],"nice":false,"zero":false},"axis":{"orient":"right","values":[-90,-60,-30,0,30,60,90],"tickSize":-11,"labels":false,"title":null}}}},
   {"data":{"values":[{}]},"mark":{"type":"rule","color":"#444","strokeWidth":1,"strokeDash":[8,4]},"encoding":{
     "x":{"datum":0,"type":"quantitative","scale":{"domain":[-1,1],"nice":false,"zero":false},"axis":{"orient":"bottom","values":[-1,0,1],"tickSize":-11,"labels":false,"title":null}},
     "y":{"datum":-90,"type":"quantitative","scale":{"domain":[-90,90],"nice":false,"zero":false},"axis":{"orient":"left","values":[-90,-60,-30,0,30,60,90],"tickSize":-11,"labels":false,"title":null}},
     "y2":{"datum":90}}}
  ]},
  {"width":137,"height":273,"resolve":{"axis":{"x":"independent","y":"independent"}},"layer":[
   {"data":{"name":"c8"},"mark":{"type":"line","color":"#000","strokeWidth":1.2,"interpolate":"catmull-rom"},"encoding":{
     "x":{"field":"u","type":"quantitative","scale":{"domain":[-1,1],"nice":false,"zero":false},"axis":{"orient":"bottom","values":[-1,0,1],"labelExpr":"replace(datum.label, '.0', '')","labelOverlap":false,"ticks":false,"labelPadding":12,"title":"u  cosϑ","titleX":68.5,"titleY":54,"titleAlign":"center","titleBaseline":"alphabetic"}},
     "y":{"field":"lat","type":"quantitative","scale":{"domain":[-90,90],"nice":false,"zero":false},"axis":null},
     "order":{"field":"lat","type":"quantitative"}}},
   {"data":{"name":"e8"},"mark":{"type":"rule","color":"#888","strokeWidth":1},"encoding":{
     "x":{"field":"lo","type":"quantitative","scale":{"domain":[-1,1],"nice":false,"zero":false},"axis":{"orient":"top","values":[-0.8,-0.6,-0.4,-0.2,0.2,0.4,0.6,0.8],"tickSize":-5,"labels":false,"title":null}},
     "x2":{"field":"hi"},
     "y":{"field":"lat","type":"quantitative","scale":{"domain":[-90,90],"nice":false,"zero":false},"axis":{"orient":"right","values":[-75,-45,-15,15,45,75],"tickSize":-5,"labels":false,"title":null}}}},
   {"data":{"name":"e8"},"mark":{"type":"tick","orient":"vertical","size":18,"thickness":1.5,"color":"#888"},"encoding":{
     "x":{"field":"lo","type":"quantitative","scale":{"domain":[-1,1],"nice":false,"zero":false},"axis":{"orient":"bottom","values":[-0.8,-0.6,-0.4,-0.2,0.2,0.4,0.6,0.8],"tickSize":-5,"labels":false,"title":null}},
     "y":{"field":"lat","type":"quantitative","scale":{"domain":[-90,90],"nice":false,"zero":false},"axis":{"orient":"left","values":[-75,-45,-15,15,45,75],"tickSize":-5,"labels":false,"title":null}}}},
   {"data":{"name":"e8"},"mark":{"type":"tick","orient":"vertical","size":18,"thickness":1.5,"color":"#888"},"encoding":{
     "x":{"field":"hi","type":"quantitative","scale":{"domain":[-1,1],"nice":false,"zero":false},"axis":{"orient":"top","values":[-1,0,1],"tickSize":-11,"labels":false,"title":null}},
     "y":{"field":"lat","type":"quantitative","scale":{"domain":[-90,90],"nice":false,"zero":false},"axis":{"orient":"right","values":[-90,-60,-30,0,30,60,90],"tickSize":-11,"labels":false,"title":null}}}},
   {"data":{"values":[{}]},"mark":{"type":"rule","color":"#444","strokeWidth":1,"strokeDash":[8,4]},"encoding":{
     "x":{"datum":0,"type":"quantitative","scale":{"domain":[-1,1],"nice":false,"zero":false},"axis":{"orient":"bottom","values":[-1,0,1],"tickSize":-11,"labels":false,"title":null}},
     "y":{"datum":-90,"type":"quantitative","scale":{"domain":[-90,90],"nice":false,"zero":false},"axis":{"orient":"left","values":[-90,-60,-30,0,30,60,90],"tickSize":-11,"labels":false,"title":null}},
     "y2":{"datum":90}}}
  ]}
],
"config":{
 "font":"DejaVu Sans",
 "view":{"stroke":"#000","strokeWidth":2},
 "axis":{"domain":false,"grid":false,"tickColor":"#000","tickWidth":1.5,"labelFont":"DejaVu Sans","labelFontSize":19,"labelColor":"#000","titleFont":"DejaVu Sans","titleFontSize":19,"titleFontWeight":"normal","titleColor":"#000","labelFlush":false,"labelOverlap":false}
}
}
